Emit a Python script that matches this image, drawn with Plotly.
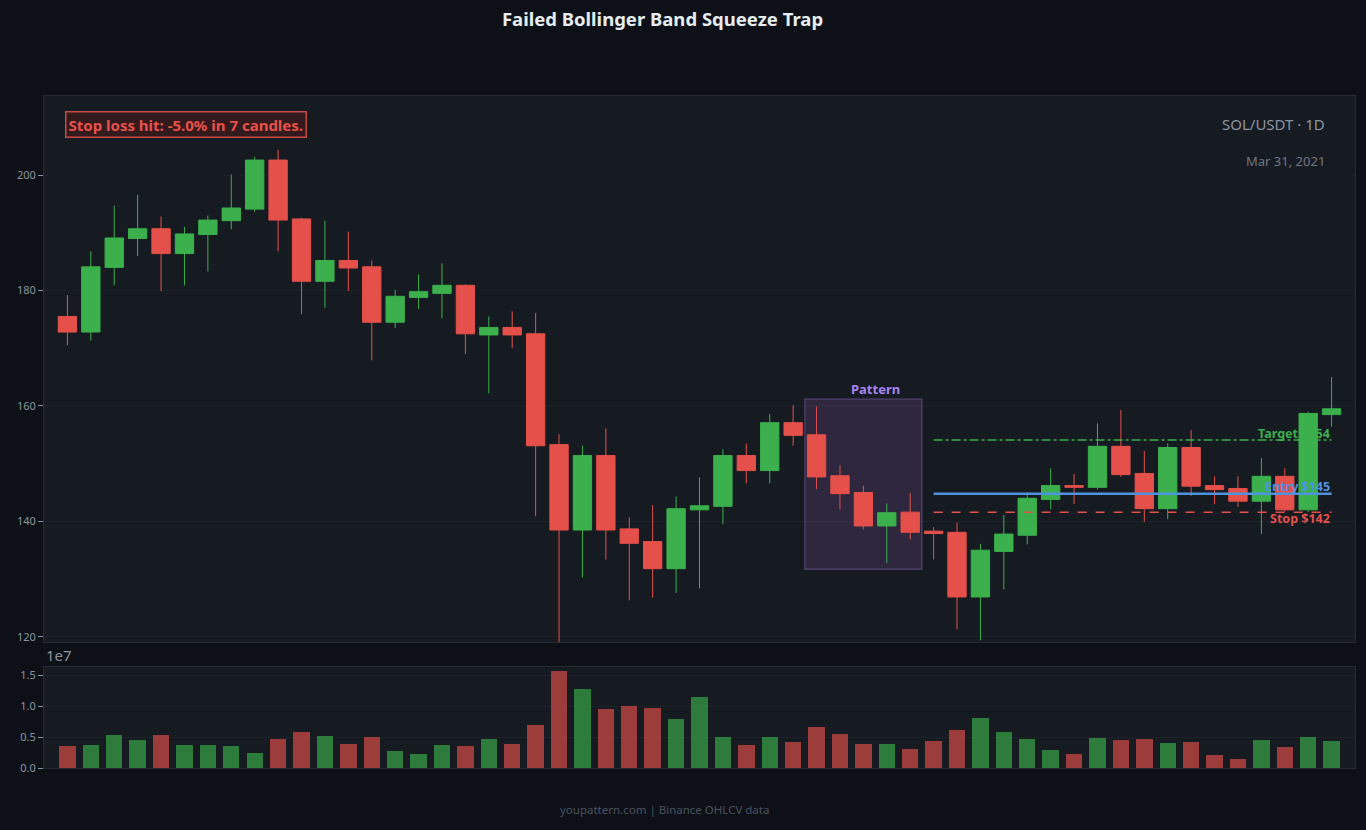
import pandas as pd
import plotly.graph_objects as go
from plotly.subplots import make_subplots

dates = pd.date_range(end="2021-03-31", periods=55, freq="D")

opens = [175.5, 172.8, 184.0, 189.0, 190.7, 186.4, 189.7, 192.1, 194.1, 202.6,
         192.4, 181.6, 185.2, 184.1, 174.5, 178.8, 179.5, 180.9, 172.3, 173.6,
         172.5, 153.3, 138.5, 151.4, 138.7, 136.5, 131.8, 142.0, 142.6, 151.4,
         148.8, 157.1, 155.0, 147.9, 145.0, 139.2, 141.6, 138.3, 138.1, 126.9,
         134.8, 137.6, 143.8, 146.2, 145.9, 153.0, 148.3, 142.2, 152.8, 146.2,
         145.7, 143.5, 147.8, 142.0, 158.5]
highs = [179.2, 186.8, 194.7, 196.6, 192.8, 191.0, 193.0, 200.1, 203.2, 204.4,
         192.6, 192.1, 190.2, 185.2, 180.1, 182.8, 184.7, 181.1, 175.5, 176.4,
         176.1, 155.1, 153.1, 156.1, 140.7, 142.8, 144.3, 147.6, 152.5, 153.5,
         158.6, 160.1, 159.9, 149.7, 146.2, 143.1, 144.9, 139.0, 139.8, 136.1,
         141.1, 145.0, 149.2, 148.2, 157.0, 159.3, 152.2, 153.5, 155.8, 147.8,
         147.8, 151.0, 149.2, 159.0, 165.0]
lows = [170.5, 171.3, 180.9, 186.0, 179.9, 180.9, 183.3, 190.6, 193.6, 186.8,
        175.9, 177.0, 179.9, 167.9, 173.5, 176.8, 175.2, 169.0, 162.2, 170.0,
        140.9, 119.0, 130.3, 133.4, 126.3, 126.8, 127.6, 128.4, 139.5, 146.6,
        146.6, 153.1, 145.6, 142.1, 138.6, 132.8, 136.9, 133.4, 121.3, 119.4,
        128.2, 136.0, 142.1, 143.0, 145.5, 147.7, 139.9, 140.4, 144.4, 143.0,
        142.5, 137.8, 141.7, 141.6, 156.4]
closes = [172.8, 184.1, 189.1, 190.7, 186.4, 189.8, 192.2, 194.3, 202.6, 192.2,
          181.6, 185.2, 183.9, 174.5, 179.0, 179.8, 180.9, 172.5, 173.6, 172.3,
          153.1, 138.5, 151.4, 138.5, 136.2, 131.8, 142.2, 142.7, 151.4, 148.8,
          157.1, 154.9, 147.7, 144.8, 139.2, 141.5, 138.1, 137.9, 126.9, 135.0,
          137.8, 144.0, 146.2, 145.9, 153.0, 148.1, 142.2, 152.8, 146.1, 145.5,
          143.5, 147.8, 142.0, 158.7, 159.5]
volumes = [3590000, 3750000, 5380000, 4570000, 5380000, 3750000, 3750000, 3590000, 2450000, 4730000,
           5870000, 5220000, 3910000, 5050000, 2770000, 2280000, 3750000, 3590000, 4730000, 3910000,
           7010000, 15650000, 12720000, 9460000, 9950000, 9780000, 7990000, 11410000, 5000000, 3750000,
           5000000, 4240000, 6680000, 5540000, 3910000, 3910000, 3100000, 4400000, 6200000, 8150000,
           5870000, 4730000, 2930000, 2280000, 4890000, 4570000, 4730000, 4080000, 4240000, 2120000,
           1470000, 4570000, 3420000, 5000000, 4400000]

pattern_start, pattern_end = 32, 36
pattern_low, pattern_high = 131.7, 161.2
trade_start, trade_end = 37, 54
target_price, entry_price, stop_price = 154.1, 144.8, 141.6

BG = "#0d1117"
PLOT_BG = "#161b22"
GRID = "#1c2129"
AXIS = "#262c35"
TICK = "#8b949e"
GREEN = "#3bb04c"
RED = "#e5504a"
BLUE = "#4f93e0"
PURPLE = "#a883f0"
FONT = "Noto Sans"

fig = make_subplots(rows=2, cols=1, shared_xaxes=True, vertical_spacing=0.0375,
                    row_heights=[0.8125, 0.15])

fig.add_trace(go.Candlestick(
    x=dates, open=opens, high=highs, low=lows, close=closes,
    increasing=dict(line=dict(color=GREEN, width=1), fillcolor=GREEN),
    decreasing=dict(line=dict(color=RED, width=1), fillcolor=RED),
    whiskerwidth=0, showlegend=False, name="SOL/USDT"), row=1, col=1)

vol_colors = ["rgba(59,176,76,0.65)" if c >= o else "rgba(229,80,74,0.65)"
              for o, c in zip(opens, closes)]
fig.add_trace(go.Bar(x=dates, y=volumes, marker=dict(color=vol_colors, line=dict(width=0)),
                     width=0.7 * 86400000, showlegend=False, name="Volume"), row=2, col=1)

half = pd.Timedelta(hours=12)
# pattern box
fig.add_shape(type="rect", xref="x", yref="y",
              x0=dates[pattern_start] - half, x1=dates[pattern_end] + half,
              y0=pattern_low, y1=pattern_high,
              fillcolor="rgba(172,108,209,0.16)", line=dict(color="rgba(165,124,221,0.30)", width=1.5),
              layer="between")
fig.add_annotation(x=dates[pattern_start + 2] + half,
                   y=pattern_high, xref="x", yref="y", text="<b>Pattern</b>", showarrow=False,
                   yanchor="bottom", yshift=-1, font=dict(family=FONT, size=13, color=PURPLE))

# trade levels
for price, color, dash, width, label, shift in [
        (target_price, GREEN, "dashdot", 1.5, "Target $154", 6),
        (entry_price, BLUE, "solid", 2.5, "Entry $145", 7),
        (stop_price, RED, "dash", 1.5, "Stop $142", -6)]:
    fig.add_shape(type="line", xref="x", yref="y", x0=dates[trade_start], x1=dates[trade_end],
                  y0=price, y1=price, line=dict(color=color, dash=dash, width=width))
    fig.add_annotation(x=dates[trade_end], y=price, xref="x", yref="y", text=f"<b>{label}</b>",
                       showarrow=False, xanchor="right", yanchor="middle", yshift=shift,
                       font=dict(family=FONT, size=12.5, color=color))

fig.add_annotation(xref="x domain", yref="y domain", x=0.016, y=0.9725, xanchor="left", yanchor="top",
                   text="<b>Stop loss hit: -5.0% in 7 candles.</b>", showarrow=False,
                   font=dict(family=FONT, size=15, color="#ea5049"),
                   bgcolor="#321a1d", bordercolor="#c94a44", borderwidth=1.5, borderpad=2)
fig.add_annotation(xref="x domain", yref="y domain", x=0.979, y=0.949, xanchor="right", yanchor="middle",
                   text="SOL/USDT · 1D", showarrow=False, font=dict(family=FONT, size=15, color=TICK))
fig.add_annotation(xref="x domain", yref="y domain", x=0.979, y=0.881, xanchor="right", yanchor="middle",
                   text="Mar 31, 2021", showarrow=False, font=dict(family=FONT, size=13, color="#6e7681"))
fig.add_annotation(xref="paper", yref="y2 domain", x=0.0, y=1.0, xanchor="left", yanchor="bottom",
                   yshift=0, text="1e7", showarrow=False, font=dict(family=FONT, size=15, color=TICK))
fig.add_annotation(xref="paper", yref="paper", x=0.473, y=-0.062, xanchor="center", yanchor="middle",
                   text="youpattern.com | Binance OHLCV data", showarrow=False,
                   font=dict(family=FONT, size=11.5, color="#4a5160"))

fig.update_layout(
    width=1366, height=830,
    paper_bgcolor=BG, plot_bgcolor=PLOT_BG,
    margin=dict(l=44, r=11, t=96, b=62),
    title=dict(text="<b>Failed Bollinger Band Squeeze Trap</b>", x=0.485, xref="container",
               xanchor="center", y=0.976, yanchor="middle", yref="container",
               font=dict(family=FONT, size=18.5, color="#e6edf3")),
    font=dict(family=FONT, color=TICK),
    showlegend=False,
    bargap=0,
    boxgap=0.1,
    boxgroupgap=0.13,
)
xr = [dates[0] - pd.Timedelta(days=1), dates[-1] + pd.Timedelta(days=1)]
fig.update_xaxes(range=xr, showgrid=False, showticklabels=False, zeroline=False,
                 showline=True, mirror=True, linecolor=AXIS, linewidth=1,
                 rangeslider=dict(visible=False))
fig.update_yaxes(showgrid=True, gridcolor=GRID, zeroline=False, showline=True, mirror=True,
                 linecolor=AXIS, linewidth=1, ticks="outside", ticklen=5, tickcolor=TICK,
                 tickfont=dict(family=FONT, size=11, color=TICK))
fig.update_yaxes(range=[119.1, 213.7], tickvals=[120, 140, 160, 180, 200], row=1, col=1)
fig.update_yaxes(range=[0, 16350000], tickvals=[0, 5000000, 10000000, 15000000],
                 ticktext=["0.0", "0.5", "1.0", "1.5"], row=2, col=1)

fig.write_html("out.html")
